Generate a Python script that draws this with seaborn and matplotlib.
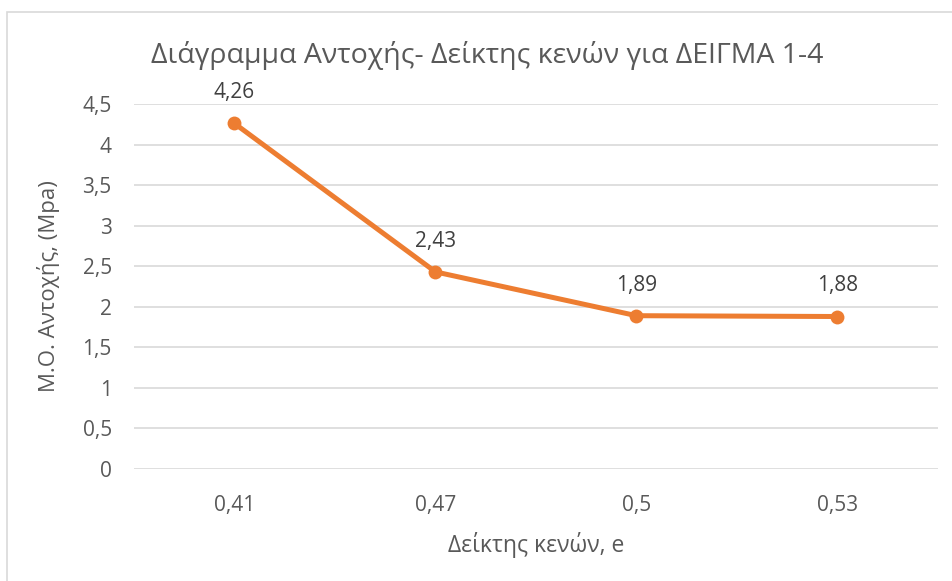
import pandas as pd
import numpy as np
import matplotlib.pyplot as plt
import seaborn as sns
from matplotlib.ticker import FuncFormatter, MultipleLocator
from matplotlib.patches import Rectangle

void_ratio = [0.41, 0.47, 0.5, 0.53]
strength = [4.26, 2.43, 1.89, 1.88]

def comma(v):
    return f'{v:g}'.replace('.', ',')

df = pd.DataFrame({'e': [comma(v) for v in void_ratio], 'strength': strength})

sns.set_style('white')
plt.rcParams['font.family'] = ['Open Sans', 'DejaVu Sans']

fig = plt.figure(figsize=(9.53, 5.81), dpi=100)
ax = fig.add_axes([134 / 953, 1 - 469 / 581, 804 / 953, 365 / 581])

# chart border (only left and top edges show in the picture)
fig.patches.append(Rectangle((7 / 953, -0.1), 1.2, 1.1 - 12 / 581, transform=fig.transFigure,
                             fill=False, edgecolor='#d9d9d9', linewidth=1.2, zorder=0))

sns.lineplot(data=df, x='e', y='strength', ax=ax, color='#ED7D31', linewidth=3.6,
             marker='o', markersize=10, markeredgewidth=0, sort=False)

for i, v in enumerate(strength):
    ax.annotate(comma(v), (i, v), xytext=(0, 22), textcoords='offset points',
                ha='center', va='center', fontsize=15, color='#404040')

ax.set_xlim(-0.5, 3.5)
ax.set_ylim(0, 4.5)
ax.yaxis.set_major_locator(MultipleLocator(0.5))
ax.yaxis.set_major_formatter(FuncFormatter(lambda v, p: comma(round(v, 2))))
ax.grid(axis='y', color='#d9d9d9', linewidth=1.2)
ax.set_axisbelow(True)
for s in ax.spines.values():
    s.set_visible(False)
ax.tick_params(axis='both', length=0, labelsize=15, colors='#595959')
ax.tick_params(axis='y', pad=16)
ax.tick_params(axis='x', pad=19)

ax.set_xlabel('Δείκτης κενών, e', fontsize=16.5, color='#595959', labelpad=11)
ax.set_ylabel('Μ.Ο. Αντοχής, (Mpa)', fontsize=16, color='#595959')
ax.yaxis.set_label_coords(-0.092, 0.5)
fig.text(487 / 953, 1 - 55 / 581, 'Διάγραμμα Αντοχής- Δείκτης κενών για ΔΕΙΓΜΑ 1-4',
         ha='center', va='center', fontsize=20.5, color='#595959')

plt.savefig('out.png', dpi=100)
